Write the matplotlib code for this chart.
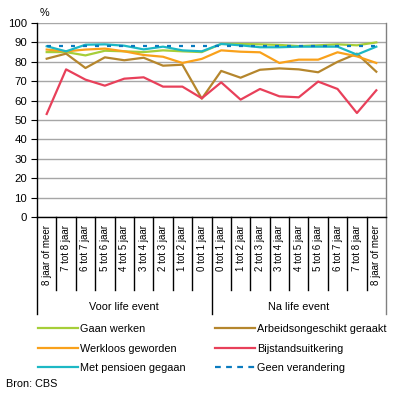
import matplotlib
matplotlib.use("Agg")
import matplotlib.pyplot as plt
from matplotlib.lines import Line2D

plt.rcParams['font.family'] = ['Liberation Sans', 'DejaVu Sans']

categories = ["8 jaar of meer", "7 tot 8 jaar", "6 tot 7 jaar", "5 tot 6 jaar", "4 tot 5 jaar",
              "3 tot 4 jaar", "2 tot 3 jaar", "1 tot 2 jaar", "0 tot 1 jaar",
              "0 tot 1 jaar", "1 tot 2 jaar", "2 tot 3 jaar", "3 tot 4 jaar", "4 tot 5 jaar",
              "5 tot 6 jaar", "6 tot 7 jaar", "7 tot 8 jaar", "8 jaar of meer"]
groups = ["Voor life event", "Na life event"]

gaan_werken = [85, 85, 83.3, 85.7, 85.4, 85, 85.9, 85.4, 85, 89.2, 89.2, 89, 88.7, 88.1, 88.5, 89, 88.5, 90]
arbeidsongeschikt = [81.6, 84.2, 76.8, 82.3, 80.8, 82.1, 78, 78.5, 61, 75.3, 71.8, 75.9, 76.6, 76.1, 74.6, 80, 84.2, 74.9]
werkloos = [86.3, 85.4, 86.3, 86.8, 85.4, 83.5, 82.6, 79.4, 81.5, 85.9, 85.2, 84.9, 79.4, 81.1, 81.1, 84.9, 82.8, 79.4]
bijstand = [53.1, 76.1, 70.8, 67.7, 71.3, 72, 67.2, 67.2, 61.2, 69.4, 60.5, 66, 62.2, 61.7, 69.8, 66, 53.6, 65.3]
pensioen = [88, 85.4, 88.8, 89, 88.3, 86.4, 87.8, 85.9, 85.4, 89.2, 88.5, 87.5, 87.5, 87.8, 87.8, 87.8, 83.7, 87.8]
geen_verandering = [88.4] * 18

W, H = 396, 394
fig = plt.figure(figsize=(W / 100, H / 100), dpi=100)
ax = fig.add_axes([37 / W, 1 - 217 / H, (386 - 37) / W, (217 - 23) / H])

FS = 7.8
FS_CAT = 7.0

x = list(range(len(categories)))
lw = 1.6
c_green = "#a6ce39"
c_brown = "#b5862d"
c_orange = "#f9a11b"
c_red = "#e8405a"
c_teal = "#1db8c4"
c_blue = "#0a7bbf"
dash = (0, (1.8, 3.6))
dash_leg = (0, (2.6, 2.4))

ax.plot(x, gaan_werken, color=c_green, lw=lw, zorder=3)
ax.plot(x, arbeidsongeschikt, color=c_brown, lw=lw, zorder=3)
ax.plot(x, werkloos, color=c_orange, lw=lw, zorder=3)
ax.plot(x, bijstand, color=c_red, lw=lw, zorder=4)
ax.plot(x, pensioen, color=c_teal, lw=lw, zorder=3)
ax.plot(x, geen_verandering, color=c_blue, lw=lw, ls=dash, zorder=5)

ax.set_xlim(-0.5, len(categories) - 0.5)
ax.set_ylim(0, 100)
ax.set_yticks(range(0, 101, 10))
ax.tick_params(axis='y', length=4, width=0.8, labelsize=FS + 0.4, pad=3, color='black')
ax.set_xticks([])
ax.yaxis.grid(True, color="#a6a6a6", lw=1)
ax.set_axisbelow(True)
ax.spines["top"].set_visible(False)
ax.spines["right"].set_color("#808080")
ax.spines["left"].set_color("black")
ax.spines["bottom"].set_color("black")
for s in ax.spines.values():
    s.set_linewidth(1)

ax.text(0.008, 1 + 10 / 194, "%", transform=ax.transAxes, fontsize=FS, ha='left', va='center')

trans = ax.get_xaxis_transform()
for i, lab in enumerate(categories):
    ax.text(i, -0.04, lab, transform=trans, rotation=90, ha='center', va='top', fontsize=FS_CAT)
for i in range(1, len(categories)):
    if i == 9:
        continue
    ax.plot([i - 0.5, i - 0.5], [0, -0.378], transform=trans, color='black', lw=1, clip_on=False)
for xs, col in [(-0.5, 'black'), (8.5, 'black'), (17.5, '#808080')]:
    ax.plot([xs, xs], [0, -0.5], transform=trans, color=col, lw=1, clip_on=False)
ax.text(4, -(307 - 217) / 194, groups[0], transform=trans, ha='center', va='center', fontsize=FS)
ax.text(13, -(307 - 217) / 194, groups[1], transform=trans, ha='center', va='center', fontsize=FS)

def h(c, ls='-'):
    return Line2D([], [], color=c, lw=lw, ls=ls)

leg_kw = dict(frameon=False, fontsize=FS, handlelength=3.7, handletextpad=0.2,
              labelspacing=0.88, borderpad=0, borderaxespad=0, loc='upper left')
fig.legend([h(c_green), h(c_orange), h(c_teal)],
           ["Gaan werken", "Werkloos geworden", "Met pensioen gegaan"],
           bbox_to_anchor=(38 / W, 1 - 324 / H), **leg_kw)
fig.legend([h(c_brown), h(c_red), h(c_blue, dash_leg)],
           ["Arbeidsongeschikt geraakt", "Bijstandsuitkering", "Geen verandering"],
           bbox_to_anchor=(215 / W, 1 - 324 / H), **leg_kw)

fig.text(6 / W, 1 - 384 / H, "Bron: CBS", fontsize=FS, ha='left', va='center')

fig.savefig("out.png", dpi=100)
